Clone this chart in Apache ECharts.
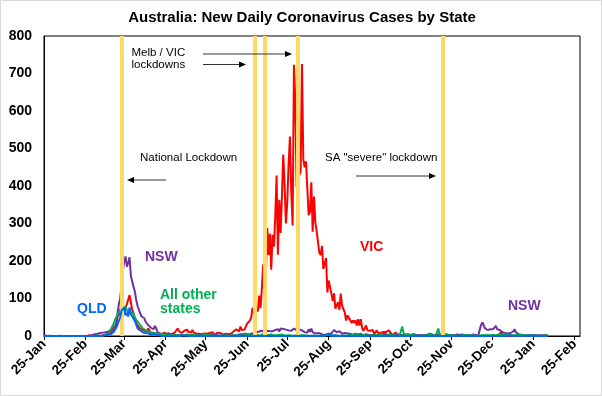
<!DOCTYPE html>
<html><head><meta charset="utf-8">
<script src="https://cdn.jsdelivr.net/npm/echarts@6/dist/echarts.min.js"></script>
<style>html,body{margin:0;padding:0;background:#fff}#c{width:602px;height:396px}</style>
</head><body><div id="c"></div>
<script>
// ---- data (daily new cases from 25-Jan-2020) ----
const monthNames = ['Jan','Feb','Mar','Apr','May','Jun','Jul','Aug','Sep','Oct','Nov','Dec'];
const axisStart = [2020, 0, 25];   // 25-Jan-2020
const axisEnd = [2021, 2, 1];      // 1-Mar-2021
const tickDay = '25';
const lockdownDates = ['2020-03-23','2020-07-01','2020-07-08','2020-08-02','2020-11-18'];

const vic = [
 1,0,0,0,0,0,0,
 1,0,0,0,0,0,0,0,0,0, 0,0,0,0,0,0,0,0,0,0, 0,0,0,0,0,0,0,2,0,
 0,2,1,0,1,2,0,1,2,3, 3,6,9,13,8,14,23,27,29,51, 49,62,56,55,60,75,85,90,109,90,70,
 60,45,35,30,22,20,18,22,15,13, 12,20,15,8,10,6,5,7,4,8, 6,3,7,9,4,5,3,4,3,6,
 8,10,6,20,13,17,8,13,14,12, 17,11,10,9,16,9,9,7,4,6, 3,5,4,7,5,6,4,8,6,10,9,
 3,4,9,5,8,6,4,5,6,4, 5,8,6,10,13,8,18,18,12,25, 16,19,17,20,33,30,41,49,75,64,
 73,77,66,108,74,127,191,134,165,288, 216,273,177,270,238,317,428,217,363,275, 374,484,403,300,357,459,532,384,295,723,627,
 397,671,429,439,725,471,450,466,394,322, 331,410,278,372,303,279,282,222,216,240, 179,182,208,116,148,149,113,94,114,73,70,
 90,70,113,81,76,63,41,55,51,43, 35,41,35,42,28,45,28,45,21,14, 11,28,15,12,14,12,16,5,10,15,
 8,13,9,7,11,12,11,9,15,12, 5,3,4,10,2,2,1,4,1,3, 2,1,5,7,0,0,5,3,0,2,0,
 0,0,1,0,0,0,0,1,0,0, 0,0,0,0,0,0,0,0,0,0, 0,0,0,0,0,0,0,0,0,0,
 0,0,0,0,0,0,0,0,0,0, 0,0,0,0,0,0,0,0,0,0, 0,1,0,0,0,0,0,0,0,3,3,
 10,3,3,3,0,1,0,0,0,0, 0,0,0,0,0,0,0,0,0,0, 0,0,0,0,0,0,0,0,0,0,0,
 0,0,1,1,0
];
const nsw = [
 3,1,0,0,0,0,0,
 0,0,0,0,0,0,0,0,0,0, 0,0,0,0,0,0,0,0,0,0, 0,0,0,0,0,0,0,0,1,
 2,3,5,3,6,4,8,5,9,6, 10,7,12,10,15,12,14,20,35,60, 85,100,135,175,200,212,185,195,210,160,145,
 150,118,96,80,70,60,52,50,48,38, 34,29,25,22,21,18,27,20,10,8, 6,9,5,7,4,6,8,5,4,3,
 5,4,3,6,2,4,3,5,2,3, 4,2,3,1,3,2,4,3,2,1, 3,2,4,2,3,1,2,3,4,2,3,
 1,2,3,1,4,2,1,3,2,1, 2,1,3,2,1,2,4,3,2,5, 3,5,4,6,5,4,8,6,7,8,
 8,10,7,12,9,14,10,12,10,14, 11,13,14,13,10,16,13,18,12,20, 15,19,14,17,12,15,18,14,18,20,16,
 15,12,18,16,15,12,10,14,9,18, 11,20,10,8,7,6,8,10,6,5, 3,7,4,9,6,5,7,12,16,13,10,
 10,13,8,6,4,8,5,7,9,6, 4,3,5,6,2,4,3,6,3,2, 4,5,3,2,4,3,1,2,3,2,
 3,4,2,5,3,6,4,3,2,5, 4,3,2,6,5,4,3,2,4,3, 5,2,3,4,2,3,4,5,3,2,4,
 3,4,2,5,3,2,4,3,6,2, 3,4,2,3,5,4,3,2,4,3, 5,4,3,2,3,4,2,3,4,2,
 3,2,4,3,2,5,3,4,2,3, 4,3,2,4,3,6, 30,36,28,20,18,16,16,18,15,18,20,27,18,22,16,
 12,10,9,8,8,7,6,8,10,12, 18,10,6,5,5,3,4,3,5,2, 4,3,2,3,4,2,3,2,3,2,3,
 2,3,2,1,2
];
const qld = [
 0,0,0,0,1,1,0,
 1,0,0,0,0,1,0,0,0,0, 0,0,0,0,0,0,0,0,0,0, 0,0,0,0,0,0,0,0,1,
 0,1,0,0,1,2,0,2,1,3, 2,3,4,3,5,8,10,16,22,30, 40,50,68,72,76,55,62,52,76,58,52,
 55,40,30,20,18,15,14,10,9,8, 6,7,5,4,3,5,2,3,1,2, 1,0,1,0,1,0,0,1,0,0,
 0,1,0,0,1,0,0,2,0,1, 0,0,1,0,0,0,1,0,0,0, 1,0,0,0,1,0,0,0,0,1,0,
 0,0,1,0,0,0,0,1,0,0, 0,0,0,1,0,0,0,0,1,0, 0,0,0,1,0,0,0,0,1,0,
 0,1,0,0,0,1,0,0,0,1, 0,0,1,0,0,0,0,1,0,0, 0,1,0,0,0,0,0,1,0,2,1,
 0,0,1,0,0,0,0,1,0,0, 0,0,0,1,0,0,0,0,0,0, 4,1,3,5,2,2,1,0,3,2,1,
 0,1,0,0,1,0,0,0,1,0, 0,0,0,1,0,0,0,0,0,0, 0,0,0,0,0,0,0,0,0,0,
 0,1,0,0,0,1,0,0,0,0, 1,0,0,0,0,1,0,0,0,0, 0,0,0,1,0,0,0,0,1,0,0,
 0,0,1,0,0,0,0,0,1,0, 0,0,1,0,0,0,0,0,1,0, 0,0,0,0,1,0,0,0,0,0,
 0,1,0,0,0,0,1,0,0,0, 0,1,0,0,0,0,1,0,0,0, 1,0,0,0,0,1,0,0,1,0,1,
 0,0,1,0,0,1,2,1,1,0, 1,0,0,1,0,0,1,0,0,0, 0,0,1,0,0,0,1,0,0,0,0,
 0,0,0,0,0
];
const otherStates = [
 0,0,0,0,0,0,0,
 0,0,0,0,1,0,0,0,0,0, 0,0,0,0,0,0,0,0,0,0, 0,0,0,0,0,0,0,0,1,
 0,1,0,1,2,1,0,2,1,2, 3,5,8,12,18,25,32,42,50,55, 62,70,78,85,72,78,76,60,68,62,58,
 60,50,43,38,34,28,24,20,18,16, 14,12,11,10,12,9,11,7,6,5, 4,6,3,4,2,3,5,2,3,2,
 3,2,1,2,4,1,2,3,1,2, 1,3,2,1,2,5,1,2,3,1, 2,1,2,4,1,2,1,3,2,1,2,
 1,2,1,3,1,2,1,1,2,4, 1,2,1,3,2,1,2,3,1,2, 1,3,2,1,4,2,1,2,3,2,
 5,2,3,1,2,4,6,3,2,1, 3,2,4,1,2,3,2,1,3,2, 4,2,1,3,2,1,2,3,1,2,1,
 2,1,3,2,1,2,4,1,2,1, 3,1,2,1,2,1,3,1,2,1, 2,1,2,3,1,2,1,2,3,1,2,
 1,2,1,3,1,2,1,2,3,1, 2,1,2,1,3,1,2,1,2,1, 3,2,1,2,1,2,3,1,2,1,
 2,1,3,2,1,2,1,2,3,1, 2,1,2,3,1,2,1,4,25,8, 3,2,2,3,1,2,1,3,2,1,2,
 1,2,1,3,2,1,2,1,3,2, 1,2,1,6,20,5,4,3,4,3, 2,3,1,2,1,2,3,1,2,1,
 2,1,2,3,1,2,1,2,1,2, 3,1,2,1,2,1,2,3,1,2, 4,3,5,2,6,3,4,2,5,3,2,
 4,3,5,2,3,2,4,3,2,3, 2,1,3,2,4,2,3,1,2,3, 2,1,2,3,1,2,1,2,1,2,1,
 2,1,1,2,1
];

// ---- daily date categories ----
const dates = [];
{
  const d = new Date(Date.UTC(axisStart[0], axisStart[1], axisStart[2]));
  const end = Date.UTC(axisEnd[0], axisEnd[1], axisEnd[2]);
  while (d.getTime() <= end) { dates.push(d.toISOString().slice(0, 10)); d.setUTCDate(d.getUTCDate() + 1); }
}
const isTick = (i, v) => v.slice(8) === tickDay;
const fmt = v => v.slice(8) + '-' + monthNames[+v.slice(5, 7) - 1];

const FONT = '"Liberation Sans", Arial, sans-serif';
const chart = echarts.init(document.getElementById('c'), null, { renderer: 'canvas' });

function txt(text, x, y, color, size, weight, align) {
  return { type: 'text', x, y, z: 100, style: {
    text, fill: color, font: (weight || 'normal') + ' ' + size + 'px ' + FONT,
    align: align || 'left', verticalAlign: 'middle' } };
}
function arrow(x1, x2, y) {
  const dir = x2 > x1 ? 1 : -1;
  return [
    { type: 'line', z: 100, shape: { x1, y1: y, x2: x2 - dir * 6, y2: y }, style: { stroke: '#333', lineWidth: 1 } },
    { type: 'polygon', z: 100, shape: { points: [[x2, y], [x2 - dir * 7, y - 3], [x2 - dir * 7, y + 3]] }, style: { fill: '#000' } }
  ];
}

const lineSeries = (name, data, color, z) => ({
  name, type: 'line', data, showSymbol: false, symbol: 'none', z,
  lineStyle: { color, width: 2 }, itemStyle: { color }, animation: false
});

chart.setOption({
  animation: false,
  backgroundColor: '#fff',
  grid: { left: 44, right: 22, top: 36, bottom: 60, show: true, borderColor: '#000', borderWidth: 1, backgroundColor: 'transparent' },
  xAxis: {
    type: 'category', data: dates, boundaryGap: false,
    axisLine: { lineStyle: { color: '#000', width: 1 } },
    axisTick: { show: true, interval: isTick, length: 4, lineStyle: { color: '#000' } },
    axisLabel: { interval: isTick, formatter: fmt, rotate: 45, margin: 6, color: '#000',
      fontFamily: FONT, fontSize: 13.5, fontWeight: 'bold' },
    splitLine: { show: false }
  },
  yAxis: {
    type: 'value', min: 0, max: 800, interval: 100,
    axisLine: { show: true, lineStyle: { color: '#000' } },
    axisTick: { show: false },
    axisLabel: { color: '#000', fontFamily: FONT, fontSize: 14, fontWeight: 'bold', margin: 12 },
    splitLine: { show: false }
  },
  series: [
    { type: 'line', data: [], z: 1, silent: true,
      markLine: { silent: true, symbol: ['none', 'none'], label: { show: false },
        lineStyle: { color: '#FFD966', width: 4, type: 'solid', opacity: 1 },
        emphasis: { disabled: true },
        data: lockdownDates.map(d => ({ xAxis: d })) } },
    lineSeries('VIC', vic, '#FF0000', 2),
    lineSeries('NSW', nsw, '#7030A0', 3),
    lineSeries('All other states', otherStates, '#00B050', 4),
    lineSeries('QLD', qld, '#0066FF', 5)
  ],
  graphic: [
    { type: 'rect', z: 0, shape: { x: 0.5, y: 0.5, width: 601, height: 395 }, style: { fill: 'none', stroke: '#d9d9d9', lineWidth: 1 } },
    txt('Australia: New Daily Coronavirus Cases by State', 302, 18, '#000', 15, 'bold', 'center'),
    txt('Melb / VIC', 131.5, 53, '#000', 11.5),
    txt('lockdowns', 131.5, 65, '#000', 11.5),
    txt('National Lockdown', 140, 158, '#000', 11.5),
    txt('SA "severe" lockdown', 325, 158, '#000', 11.5),
    ...arrow(203, 292, 54),
    ...arrow(203, 246, 64.5),
    ...arrow(166, 127, 180),
    ...arrow(356, 436, 176),
    txt('NSW', 145, 257, '#7030A0', 14, 'bold'),
    txt('QLD', 77, 309, '#0066FF', 14, 'bold'),
    txt('All other', 160, 295.5, '#00B050', 14, 'bold'),
    txt('states', 160, 309.5, '#00B050', 14, 'bold'),
    txt('VIC', 360, 247.5, '#FF0000', 14, 'bold'),
    txt('NSW', 508, 306, '#7030A0', 14, 'bold')
  ]
});
</script></body></html>
